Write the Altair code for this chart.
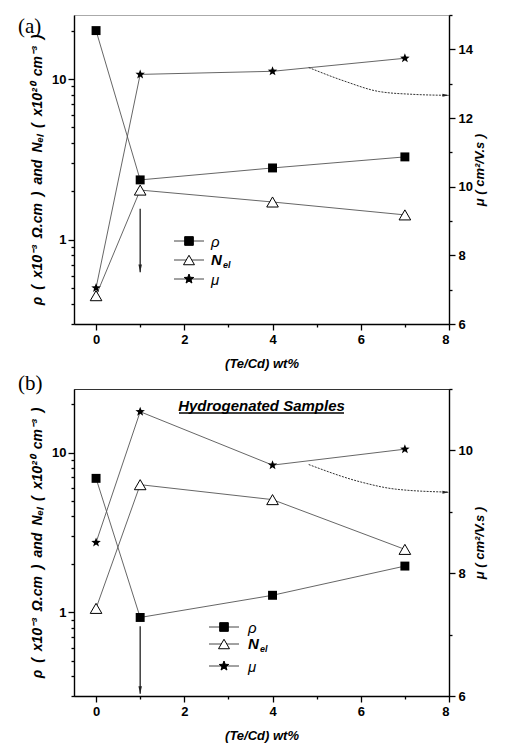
import math
import altair as alt
import pandas as pd

# ---------------- data ----------------
x_vals = [0, 1, 4, 7]

# panel (a)
rho_a = [20.0, 2.36, 2.8, 3.28]
nel_a = [0.45, 2.04, 1.72, 1.43]
mu_a = [7.05, 13.27, 13.36, 13.74]

# panel (b) hydrogenated
rho_b = [6.9, 0.93, 1.28, 1.95]
nel_b = [1.06, 6.3, 5.08, 2.48]
mu_b = [8.5, 10.63, 9.76, 10.02]

# annotation arrows (data coordinates)
arrow_x = [1, 1]
arrow_a_y = [1.56, 0.63]
arrow_b_y = [0.82, 0.31]
curve_a_x = [4.82, 5.64, 6.42, 7.17, 8.0]
curve_a_mu = [13.47, 13.07, 12.77, 12.69, 12.66]
curve_b_x = [4.82, 6.03, 6.78, 8.0]
curve_b_mu = [9.77, 9.48, 9.37, 9.32]

x_ticks = list(range(0, 9))
left_ticks = [0.3, 0.4, 0.5, 0.6, 0.7, 0.8, 0.9, 1, 2, 3, 4, 5, 6, 7, 8, 9, 10, 20]

SP = "\u2002"
Y_LEFT_TITLE = ("\u03c1" + SP + "(" + SP + "x10\u207b\u00b3" + SP + "\u03a9.cm" + SP + ")"
                + SP + "and" + SP + "N\u2091\u2097" + SP + "(" + SP + "x10\u00b2\u2070"
                + SP + "cm\u207b\u00b3" + SP + ")")
Y_RIGHT_TITLE = "\u03bc ( cm\u00b2/V.s )"
X_TITLE = "(Te/Cd) wt%"

SANS = "Liberation Sans"
SERIF = "Liberation Serif"
W = 375


def star_path():
    pts = []
    for i in range(10):
        r = 1.0 if i % 2 == 0 else 0.42
        a = -math.pi / 2 + i * math.pi / 5
        pts.append(f"{r * math.cos(a):.3f},{r * math.sin(a):.3f}")
    return "M" + "L".join(pts) + "Z"


STAR = star_path()
HEAD_DOWN = "M-0.55,-2.4L0.55,-2.4L0,0Z"
HEAD_RIGHT = "M-2.4,-0.55L-2.4,0.55L0,0Z"

x_axis = alt.Axis(
    values=x_ticks,
    labelExpr="datum.value % 2 == 0 ? datum.label : ''",
    tickSize={"condition": {"test": "datum.value % 2 == 1", "value": 3}, "value": 6},
    labelPadding=3,
    titlePadding=11,
    title=X_TITLE,
)
X = alt.X("x:Q", scale=alt.Scale(domain=[-0.5, 8], nice=False, zero=False), axis=x_axis)

dummy = pd.DataFrame({"d": [0]})


def left_y(field):
    return alt.Y(
        f"{field}:Q",
        scale=alt.Scale(type="log", domain=[0.3, 25], nice=False),
        axis=alt.Axis(
            values=left_ticks,
            labelExpr="datum.value == 1 ? '1' : (datum.value == 10 ? '10' : '')",
            tickSize={"condition": {"test": "datum.value == 1 || datum.value == 10", "value": 6}, "value": 3},
            labelPadding=2,
            titlePadding=7,
            titleFontSize=14,
            title=Y_LEFT_TITLE,
        ),
    )


def right_y(field, top):
    return alt.Y(
        f"{field}:Q",
        scale=alt.Scale(domain=[6, top], nice=False, zero=False),
        axis=alt.Axis(
            orient="right",
            values=list(range(6, top + 1)),
            labelExpr="datum.value % 2 == 0 ? format(datum.value, 'd') : ''",
            tickSize={"condition": {"test": "datum.value % 2 == 1", "value": 3}, "value": 6},
            labelPadding=3,
            titlePadding=14,
            titleAngle=270,
            titleFontSize=13,
            title=Y_RIGHT_TITLE,
        ),
    )


def legend_layers(lx0, lx1, sx, tx, ys):
    layers = []
    specs = [
        ("square", True, "black", "black", 75),
        ("triangle-up", False, "white", "black", 120),
        (STAR, True, "black", "black", 100),
    ]
    for (shape, filled, fill, stroke, size), y in zip(specs, ys):
        layers.append(
            alt.Chart(dummy).mark_rule(color="#444", strokeWidth=1).encode(
                x=alt.value(lx0), x2=alt.value(lx1), y=alt.value(y)
            )
        )
        layers.append(
            alt.Chart(dummy).mark_point(
                shape=shape, filled=True, fill=fill, stroke=stroke, strokeWidth=1,
                size=size, opacity=1,
            ).encode(x=alt.value(sx), y=alt.value(y))
        )
    layers.append(
        alt.Chart(dummy).mark_text(
            text="\u03c1", align="left", baseline="middle", font=SANS,
            fontSize=15, fontStyle="italic", color="black",
        ).encode(x=alt.value(tx), y=alt.value(ys[0] + 1))
    )
    layers.append(
        alt.Chart(dummy).mark_text(
            text="N", align="left", baseline="middle", font=SANS,
            fontSize=15, fontStyle="italic", fontWeight="bold", color="black",
        ).encode(x=alt.value(tx), y=alt.value(ys[1]))
    )
    layers.append(
        alt.Chart(dummy).mark_text(
            text="el", align="left", baseline="middle", font=SANS,
            fontSize=9, fontStyle="italic", fontWeight="bold", color="black",
        ).encode(x=alt.value(tx + 12), y=alt.value(ys[1] + 5))
    )
    layers.append(
        alt.Chart(dummy).mark_text(
            text="\u03bc", align="left", baseline="middle", font=SANS,
            fontSize=15, fontStyle="italic", color="black",
        ).encode(x=alt.value(tx), y=alt.value(ys[2] + 1))
    )
    return layers


def panel(rho, nel, mu, arrow_y, cx, cmu, mu_top, height, tag, tag_y,
          leg, title=None, border="#333"):
    d_left = pd.DataFrame(
        {"x": x_vals * 2, "v": rho + nel, "series": ["rho"] * 4 + ["nel"] * 4}
    )
    d_rho = pd.DataFrame({"x": x_vals, "v": rho})
    d_nel = pd.DataFrame({"x": x_vals, "v": nel})
    d_mu = pd.DataFrame({"x": x_vals, "mu": mu})
    d_arrow = pd.DataFrame({"x": [arrow_x[0]], "v": [arrow_y[0]], "v2": [arrow_y[1]]})
    d_head = pd.DataFrame({"x": [arrow_x[1]], "v": [arrow_y[1]]})
    d_curve = pd.DataFrame({"x": cx, "mu": cmu})
    d_chead = pd.DataFrame({"x": [cx[-1]], "mu": [cmu[-1]]})

    lines = alt.Chart(d_left).mark_line(color="#555", strokeWidth=0.9).encode(
        x=X, y=left_y("v"), detail="series:N"
    )
    p_rho = alt.Chart(d_rho).mark_point(
        shape="square", filled=True, color="black", size=80, opacity=1
    ).encode(x=X, y=left_y("v"))
    p_nel = alt.Chart(d_nel).mark_point(
        shape="triangle-up", filled=True, fill="white", stroke="black",
        strokeWidth=1, size=135, opacity=1
    ).encode(x=X, y=left_y("v"))
    arrow = alt.Chart(d_arrow).mark_rule(color="#222", strokeWidth=1.3).encode(
        x=X, y=left_y("v"), y2="v2:Q"
    )
    head = alt.Chart(d_head).mark_point(
        shape=HEAD_DOWN, filled=True, color="#222", size=40, opacity=1
    ).encode(x=X, y=left_y("v"))
    tag_txt = alt.Chart(dummy).mark_text(
        text=tag, align="left", baseline="middle", font=SERIF, fontSize=21, color="black"
    ).encode(x=alt.value(-56), y=alt.value(tag_y))

    left_layers = [lines, arrow, head, p_rho, p_nel, tag_txt]
    left_layers += legend_layers(*leg)
    if title:
        left_layers.append(
            alt.Chart(dummy).mark_text(
                text=title, align="center", baseline="middle", font=SANS,
                fontSize=15, fontStyle="italic", fontWeight="bold", color="black",
            ).encode(x=alt.value(W / 2), y=alt.value(17))
        )
        left_layers.append(
            alt.Chart(dummy).mark_rule(color="black", strokeWidth=1.3).encode(
                x=alt.value(105), x2=alt.value(270), y=alt.value(24)
            )
        )
    left_group = alt.layer(*left_layers)

    mu_line = alt.Chart(d_mu).mark_line(color="#555", strokeWidth=0.9).encode(
        x=X, y=right_y("mu", mu_top)
    )
    mu_pts = alt.Chart(d_mu).mark_point(
        shape=STAR, filled=True, color="black", size=100, opacity=1
    ).encode(x=X, y=right_y("mu", mu_top))
    curve = alt.Chart(d_curve).mark_line(
        color="#333", strokeWidth=1, strokeDash=[2, 1.2], interpolate="monotone"
    ).encode(x=X, y=right_y("mu", mu_top))
    chead = alt.Chart(d_chead).mark_point(
        shape=HEAD_RIGHT, filled=True, color="#222", size=30, opacity=1
    ).encode(x=X, y=right_y("mu", mu_top))
    right_group = alt.layer(mu_line, curve, chead, mu_pts)

    return alt.layer(left_group, right_group).resolve_scale(y="independent").properties(
        width=W, height=height, view=alt.ViewBackground(stroke=border, strokeWidth=1)
    )


top = panel(rho_a, nel_a, mu_a, arrow_a_y, curve_a_x, curve_a_mu, 15, 309,
            "(a)", 12, (100, 130, 115, 137, [226, 245, 264]), border="#aaaaaa")
bottom = panel(rho_b, nel_b, mu_b, arrow_b_y, curve_b_x, curve_b_mu, 11, 307,
               "(b)", -5, (135, 165, 150, 174, [238, 255, 277]),
               title="Hydrogenated Samples", border="#333333")

chart = alt.vconcat(top, bottom, spacing=1).properties(
    padding={"left": 9, "top": 5, "right": 5, "bottom": 5}
).configure_axis(
    grid=False,
    domainColor="black",
    domainWidth=1.4,
    tickColor="black",
    tickWidth=1.3,
    labelFont=SANS,
    labelFontSize=13,
    labelFontWeight="bold",
    labelColor="black",
    titleFont=SANS,
    titleFontSize=13,
    titleFontWeight="bold",
    titleFontStyle="italic",
    titleColor="black",
).configure_view(stroke="#333")

chart.save("out.html", embed_options={"renderer": "svg", "actions": False})
